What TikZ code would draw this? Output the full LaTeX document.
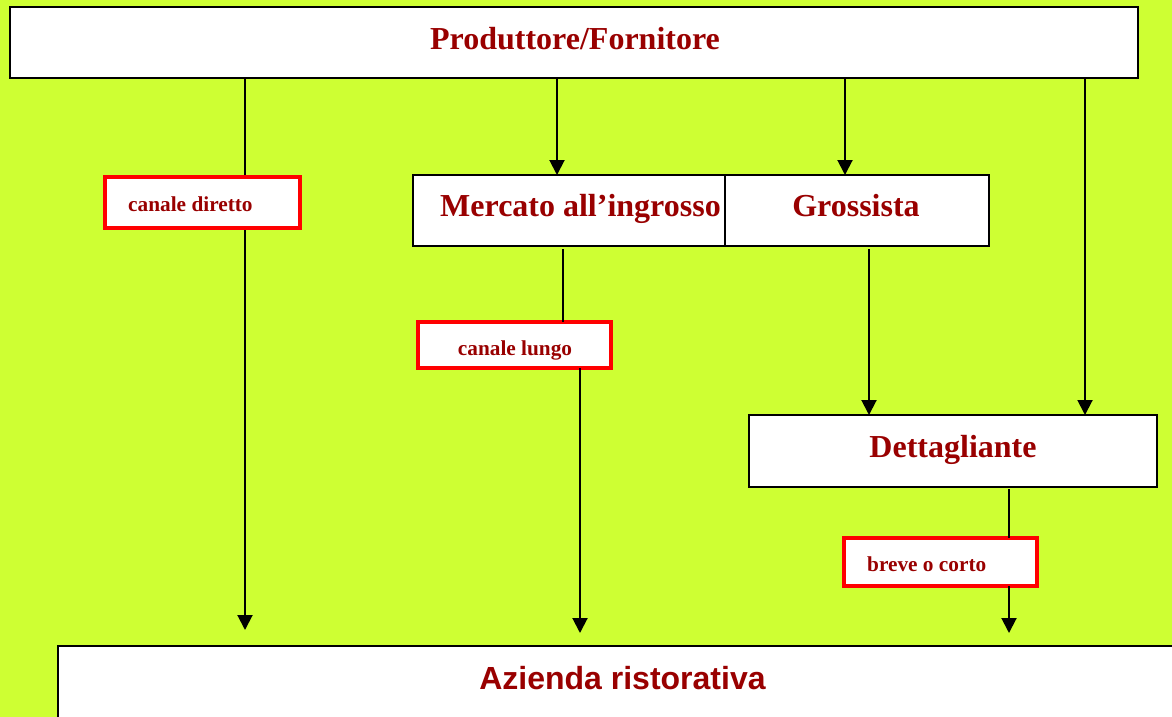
\documentclass[tikz,border=0pt]{standalone}
\usepackage{fontspec}
\setmainfont{Liberation Serif}
\newfontfamily\arialfont{Liberation Sans}
\usetikzlibrary{arrows.meta}
\definecolor{bg}{RGB}{206,255,51}
\definecolor{txt}{RGB}{153,0,0}
\begin{document}
\begin{tikzpicture}[x=1pt,y=-1pt,
  mainbox/.style={draw=black,line width=2pt,fill=white,inner sep=0pt,outer sep=0pt},
  redbox/.style={draw=red,line width=4pt,fill=white,inner sep=0pt,outer sep=0pt},
  bigtxt/.style={text=txt,font=\fontsize{32}{36}\selectfont\bfseries,inner sep=0pt,anchor=base},
  smalltxt/.style={text=txt,font=\fontsize{21.3}{24}\selectfont\bfseries,inner sep=0pt,anchor=base},
  conn/.style={line width=2pt,draw=black},
  arr/.style={conn,-{Triangle[width=15pt,length=15pt]}}]
\useasboundingbox (0,0) rectangle (1172,717);
\clip (0,0) rectangle (1172,717);
\fill[bg] (0,0) rectangle (1172,717);
% main boxes
\node[mainbox,minimum width=1128pt,minimum height=71pt] (prod) at (574,42.5) {};
\node[mainbox,minimum width=312pt,minimum height=71pt] (merc) at (569,210.5) {};
\node[mainbox,minimum width=264pt,minimum height=71pt] (gros) at (857,210.5) {};
\node[mainbox,minimum width=408pt,minimum height=72pt] (dett) at (953,451) {};
\node[mainbox,minimum width=1130pt,minimum height=90pt] (azi) at (623,691) {};
% x positions of connectors
\coordinate (xa) at (245,0);
\coordinate (xb) at (557,0);
\coordinate (xc) at (845,0);
\coordinate (xd) at (1085,0);
\coordinate (xe) at (563,0);
\coordinate (xf) at (580,0);
\coordinate (xg) at (869,0);
\coordinate (xh) at (1009,0);
% connectors
\draw[arr,shorten >=16pt] (prod.south -| xa) -- (azi.north -| xa);
\draw[arr] (prod.south -| xb) -- (merc.north -| xb);
\draw[arr] (prod.south -| xc) -- (gros.north -| xc);
\draw[arr] (prod.south -| xd) -- (dett.north -| xd);
\draw[arr,shorten <=3pt] (gros.south -| xg) -- (dett.north -| xg);
% label boxes
\node[redbox,minimum width=195pt,minimum height=51pt] (dir) at (202.5,202.5) {};
\node[redbox,minimum width=193pt,minimum height=46pt] (lung) at (514.5,345) {};
\node[redbox,minimum width=193pt,minimum height=48pt] (brev) at (940.5,562) {};
\draw[conn,shorten <=3pt] (merc.south -| xe) -- (lung.north -| xe);
\draw[arr,shorten >=13pt] (lung.south -| xf) -- (azi.north -| xf);
\draw[conn,shorten <=2pt] (dett.south -| xh) -- (brev.north -| xh);
\draw[arr,shorten >=13pt] (brev.south -| xh) -- (azi.north -| xh);
% texts
\node[bigtxt] (tprod) at (575,50) {Produttore/Fornitore};
\node[bigtxt,anchor=base west] (tmerc) at (440,216) {Mercato all’ingrosso};
\node[bigtxt] (tgros) at (856,216) {Grossista};
\node[bigtxt] (tdett) at (953,457) {Dettagliante};
\node[bigtxt,font=\fontsize{32}{36}\selectfont\arialfont\bfseries] (tazi) at (622.5,689) {Azienda ristorativa};
\node[smalltxt,anchor=base west] (tdir) at (128,211) {canale diretto};
\node[smalltxt] (tlung) at (515,355) {canale lungo};
\node[smalltxt,anchor=base west] (tbrev) at (867,571) {breve o corto};
\end{tikzpicture}
\end{document}
